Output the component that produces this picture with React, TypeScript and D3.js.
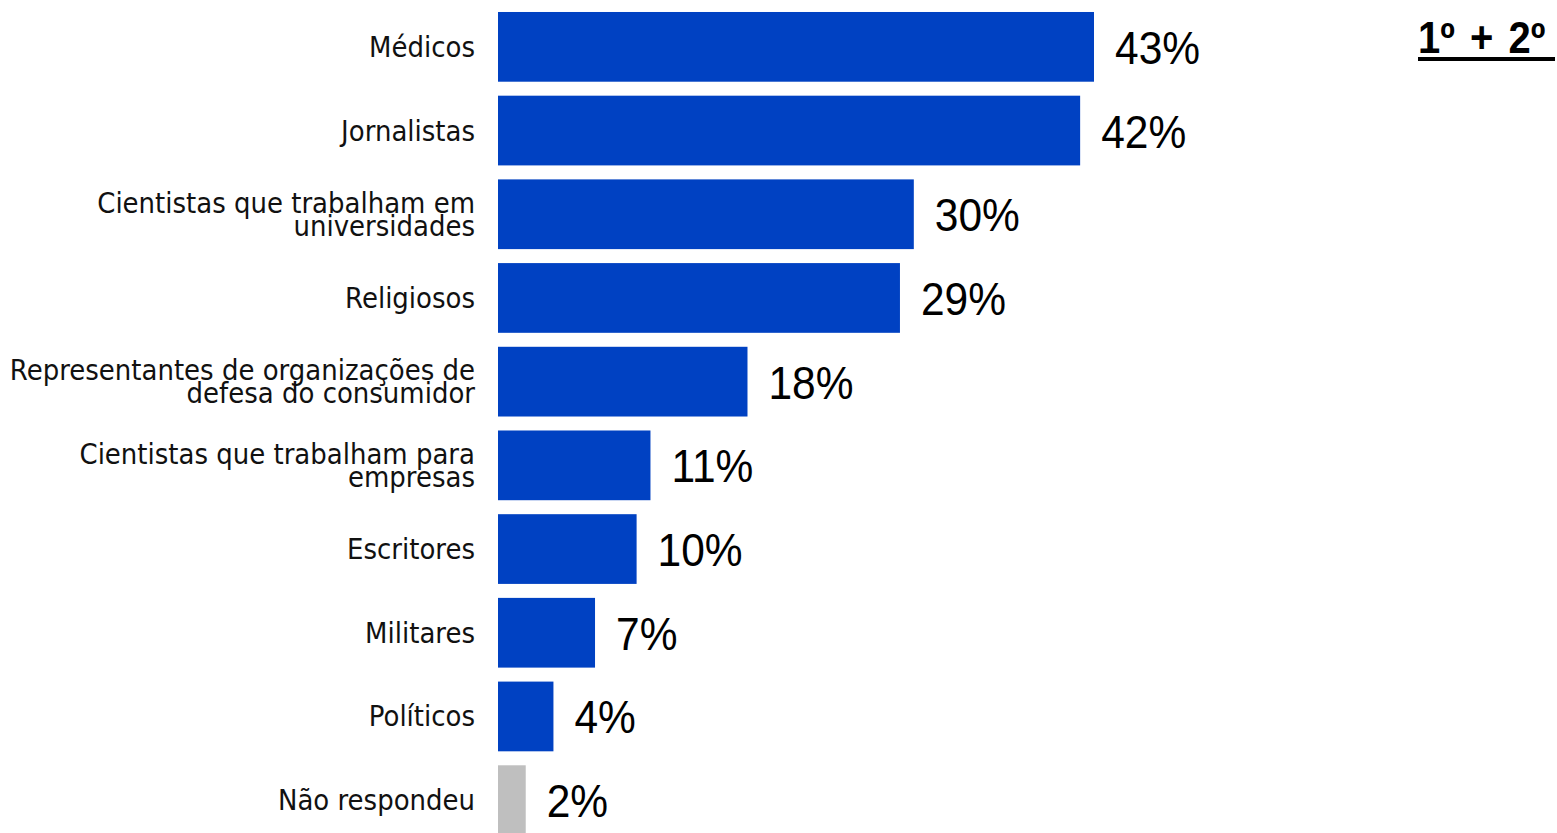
import React from "react";
import * as d3 from "d3";

const categories: string[] = [
  "Médicos",
  "Jornalistas",
  "Cientistas que trabalham em\nuniversidades",
  "Religiosos",
  "Representantes de organizações de\ndefesa do consumidor",
  "Cientistas que trabalham para\nempresas",
  "Escritores",
  "Militares",
  "Políticos",
  "Não respondeu",
];
const values: number[] = [43, 42, 30, 29, 18, 11, 10, 7, 4, 2];
const isNoAnswer: boolean[] = [false, false, false, false, false, false, false, false, false, true];
const headerText = "1º + 2º";

const W = 1557;
const H = 833;
const BLUE = "#0041C2";
const GRAY = "#BFBFBF";
const SY = 1.1;

export default function App() {
  const x = d3.scaleLinear().domain([0, d3.max(values) as number]).range([498, 1094]);
  const y = d3
    .scaleBand<string>()
    .domain(categories)
    .range([5, 842])
    .paddingInner(0.167)
    .paddingOuter(0.0835);
  const bw = y.bandwidth();

  return (
    <svg
      width={W}
      height={H}
      style={{ position: "absolute", left: 0, top: 0, display: "block", background: "#fff" }}
    >
      {categories.map((c, i) => {
        const top = y(c) as number;
        const cy = top + bw / 2;
        const v = values[i];
        const lines = c.split("\n");
        const n = lines.length;
        const firstBase = cy + 10 - (n - 1) * 11.25;
        return (
          <g key={c}>
            <rect x={x(0)} y={top} width={x(v) - x(0)} height={bw} fill={isNoAnswer[i] ? GRAY : BLUE} />
            {lines.map((ln, j) => (
              <text
                key={j}
                transform={`translate(475,${firstBase + j * 22.5}) scale(1,${SY})`}
                textAnchor="end"
                fontFamily="'DejaVu Sans', sans-serif"
                fontSize={26}
                fill="#111"
              >
                {ln}
              </text>
            ))}
            <text
              transform={`translate(${x(v) + 21},${cy + 17}) scale(1,${SY})`}
              fontFamily="'Liberation Sans', Arial, sans-serif"
              fontSize={42.5}
              fill="#000"
            >
              {`${v}%`}
            </text>
          </g>
        );
      })}
      <text
        transform={`translate(1418,53) scale(1,${SY})`}
        fontFamily="'Liberation Sans', Arial, sans-serif"
        fontWeight="bold"
        fontSize={40}
        fill="#000"
        style={{ wordSpacing: "4px" }}
      >
        {headerText}
      </text>
      <rect x={1418} y={57} width={137} height={4} fill="#000" />
    </svg>
  );
}
